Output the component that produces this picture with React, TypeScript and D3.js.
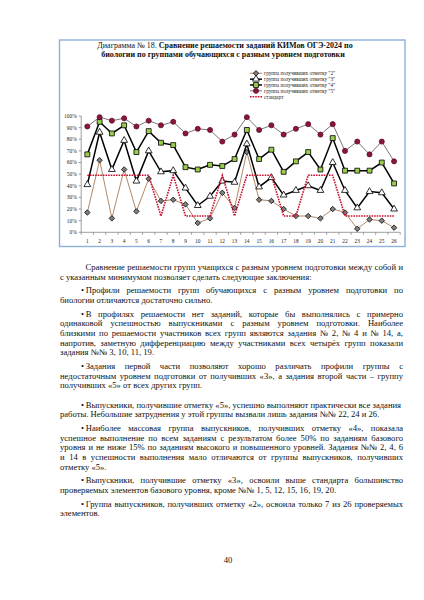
import React, { useRef, useEffect } from 'react';
import * as d3 from 'd3';

// task numbers on the x axis
const tasks = ['1', '2', '3', '4', '5', '6', '7', '8', '9', '10', '11', '12', '13',
  '14', '15', '16', '17', '18', '19', '20', '21', '22', '23', '24', '25', '26'];
const percentTicks = [0, 10, 20, 30, 40, 50, 60, 70, 80, 90, 100];

// solve rate (%) by group
const grade2 = [17, 62, 12, 54, 18, 46, 27, 28, 24, 8, 12, 34, 21, 69, 28, 27, 20, 14, 14, 12, 20, 17, 3, 11, 10, 4];
const grade3 = [41, 86, 54, 79, 44, 70, 52, 53, 38, 23, 31, 44, 43, 76, 39, 47, 32, 36, 40, 36, 60, 36, 21, 35, 34, 20];
const grade4 = [67, 95, 85, 92, 69, 87, 77, 75, 56, 54, 58, 57, 63, 88, 63, 71, 52, 61, 69, 54, 81, 53, 53, 53, 60, 42];
const grade5 = [91, 99, 96, 98, 91, 96, 92, 95, 85, 89, 88, 78, 84, 99, 88, 92, 84, 89, 93, 84, 93, 70, 78, 67, 78, 61];
const standard = [49, 49, 49, 49, 49, 49, 14, 49, 14, 14, 14, 49, 14, 49, 49, 49, 14, 14, 49, 49, 49, 14, 14, 14, 14, 14];

const legendLabels = [
  'группа получивших отметку "2"',
  'группа получивших отметку "3"',
  'группа получивших отметку "4"',
  'группа получивших отметку "5"',
  'стандарт',
];

const titleLead = 'Диаграмма № 18. ';
const titleBold1 = 'Сравнение решаемости заданий КИМов ОГЭ-2024 по';
const titleBold2 = 'биологии по группами обучающихся с разным уровнем подготовки';

const paragraphs = [
  ['Сравнение решаемости групп учащихся с разным уровнем подготовки между собой и',
    'с указанным минимумом позволяет сделать следующие заключения:'],
  ['•\u2009Профили решаемости групп обучающихся с разным уровнем подготовки по',
    'биологии отличаются достаточно сильно.'],
  ['•\u2009В профилях решаемости нет заданий, которые бы выполнялись с примерно',
    'одинаковой успешностью выпускниками с разным уровнем подготовки. Наиболее',
    'близкими по решаемости участников всех групп являются задания № 2, № 4 и № 14, а,',
    'напротив, заметную дифференциацию между участниками всех четырёх групп показали',
    'задания №№ 3, 10, 11, 19.'],
  ['•\u2009Задания первой части позволяют хорошо различать профили группы с',
    'недостаточным уровнем подготовки от получивших «3», а задания второй части – группу',
    'получивших «5» от всех других групп.'],
  ['•\u2009Выпускники, получившие отметку «5», успешно выполняют практически все задания',
    'работы. Небольшие затруднения у этой группы вызвали лишь задания №№ 22, 24 и 26.'],
  ['•\u2009Наиболее массовая группа выпускников, получивших отметку «4», показала',
    'успешное выполнение по всем заданиям с результатом более 50% по заданиям базового',
    'уровня и не ниже 15% по заданиям высокого и повышенного уровней. Задания №№ 2, 4, 6',
    'и 14 в успешности выполнения мало отличаются от группы выпускников, получивших',
    'отметку «5».'],
  ['•\u2009Выпускники, получившие отметку «3», освоили выше стандарта большинство',
    'проверяемых элементов базового уровня, кроме №№ 1, 5, 12, 15, 16, 19, 20.'],
  ['•\u2009Группа выпускников, получивших отметку «2», освоила только 7 из 26 проверяемых',
    'элементов.'],
];
const raggedParagraphs = [4];
const pageNumber = '40';

const serif = '"Liberation Serif", "Times New Roman", serif';

export default function App() {
  const ref = useRef<SVGSVGElement>(null);

  // plot geometry
  const box = { x: 59.5, y: 40, w: 345.5, h: 206.5 };
  const plot = { left: 81.2, right: 400.2, top: 116, bottom: 232.3 };

  const x = d3.scaleBand().domain(tasks).range([plot.left, plot.right]);
  const y = d3.scaleLinear().domain([0, 100]).range([plot.bottom, plot.top]);
  const cx = (i: number) => x(tasks[i])! + x.bandwidth() / 2;
  const line = d3.line<number>().x((_, i) => cx(i)).y((d) => y(d));

  const sym = (type: d3.SymbolType, size: number) => d3.symbol().type(type).size(size)()!;
  const diamond = sym(d3.symbolSquare, 15);
  const triangle = sym(d3.symbolTriangle, 20);
  const square = sym(d3.symbolSquare, 24);
  const circle = sym(d3.symbolCircle, 20);

  const series = [
    { data: grade2, stroke: '#a87a55', width: 0.9, path: diamond, rot: 45, fill: '#7f7f7f', ms: '#111' },
    { data: grade3, stroke: '#000', width: 1.5, path: triangle, rot: 0, fill: '#fff', ms: '#000' },
    { data: grade4, stroke: '#000', width: 1.5, path: square, rot: 0, fill: '#9acd4c', ms: '#000' },
    { data: grade5, stroke: '#6e6272', width: 0.9, path: circle, rot: 0, fill: '#8c1638', ms: '#5c0d24' },
  ];

  // text layout
  const lineStep = 9.65;
  const paraGaps = [0, 4.1, 4.1, 4.1, 9.6, 4.1, 4.1, 4.1];
  const textLeft = 60;
  const textRight = 403;
  const bodyLines: { text: string; x: number; y: number; justify: boolean }[] = [];
  let yy = 269.9;
  paragraphs.forEach((p, pi) => {
    yy += paraGaps[pi];
    p.forEach((t, li) => {
      const startX = li === 0 ? (pi === 0 ? 85.5 : 81) : textLeft;
      const last = li === p.length - 1;
      bodyLines.push({ text: t, x: startX, y: yy, justify: !last && !raggedParagraphs.includes(pi) });
      yy += lineStep;
    });
  });

  useEffect(() => {
    if (!ref.current) return;
    d3.select(ref.current)
      .selectAll<SVGTextElement, unknown>('text.justify')
      .each(function () {
        this.style.wordSpacing = '0px';
        const natural = this.getComputedTextLength();
        const target = textRight - +this.getAttribute('x')!;
        const gaps = (this.textContent!.match(/ /g) || []).length;
        if (gaps > 0) this.style.wordSpacing = `${(target - natural) / gaps}px`;
      });
  }, []);

  const legendY = (i: number) => 73.3 + i * 5.85;

  return (
    <svg ref={ref} width={424} height={600} style={{ position: 'absolute', left: 0, top: 0, background: '#fff' }}
      fontFamily={serif}>
      <rect x={box.x} y={box.y} width={box.w} height={box.h} fill="#fff" stroke="#8fb0d8" strokeWidth={1.4} />

      <text x={225} y={47.8} textAnchor="middle" fontSize={8} fill="#111">
        <tspan>{titleLead}</tspan>
        <tspan fontWeight="bold">{titleBold1}</tspan>
      </text>
      <text x={223} y={56.8} textAnchor="middle" fontSize={8} fontWeight="bold" fill="#111">{titleBold2}</text>

      {/* axes */}
      <line x1={plot.left} x2={plot.left} y1={plot.top} y2={plot.bottom} stroke="#868686" strokeWidth={0.8} />
      <line x1={plot.left} x2={plot.right} y1={plot.bottom} y2={plot.bottom} stroke="#868686" strokeWidth={0.8} />
      {percentTicks.map((t) => (
        <g key={t}>
          <line x1={plot.left - 2.5} x2={plot.left} y1={y(t)} y2={y(t)} stroke="#868686" strokeWidth={0.8} />
          <text x={plot.left - 4.5} y={y(t)} dy="0.35em" textAnchor="end" fontSize={5.4} fill="#222">{t}%</text>
        </g>
      ))}
      {tasks.map((t) => (
        <line key={'tk' + t} x1={x(t)!} x2={x(t)!} y1={plot.bottom} y2={plot.bottom + 2.5} stroke="#868686" strokeWidth={0.8} />
      ))}
      <line x1={plot.right} x2={plot.right} y1={plot.bottom} y2={plot.bottom + 2.5} stroke="#868686" strokeWidth={0.8} />
      {tasks.map((t, i) => (
        <text key={'xl' + t} x={cx(i)} y={241} dy="0.35em" textAnchor="middle" fontSize={5.4} fill="#222">{t}</text>
      ))}

      {/* series */}
      {series.map((s, si) => (
        <g key={si}>
          <path d={line(s.data)!} fill="none" stroke={s.stroke} strokeWidth={s.width} />
          {s.data.map((d, i) => (
            <path key={i} d={s.path} transform={`translate(${cx(i)},${y(d)}) rotate(${s.rot})`}
              fill={s.fill} stroke={s.ms} strokeWidth={0.8} />
          ))}
        </g>
      ))}
      <path d={line.curve(d3.curveLinear)(standard)!} fill="none" stroke="#c8102e" strokeWidth={1.6} strokeDasharray="1.6 1" />

      {/* legend */}
      {series.map((s, i) => (
        <g key={'lg' + i}>
          <line x1={250} x2={262} y1={legendY(i)} y2={legendY(i)} stroke={s.stroke} strokeWidth={s.width} />
          <path d={s.path} transform={`translate(256,${legendY(i)}) rotate(${s.rot})`} fill={s.fill} stroke={s.ms} strokeWidth={0.8} />
          <text x={264} y={legendY(i)} dy="0.35em" fontSize={5.2} fill="#222">{legendLabels[i]}</text>
        </g>
      ))}
      <line x1={250} x2={262} y1={legendY(4)} y2={legendY(4)} stroke="#c8102e" strokeWidth={1.6} strokeDasharray="1.6 1" />
      <text x={264} y={legendY(4)} dy="0.35em" fontSize={5.2} fill="#222">{legendLabels[4]}</text>

      {/* body text */}
      {bodyLines.map((l, i) => (
        <text key={'b' + i} className={l.justify ? 'justify' : undefined} x={l.x} y={l.y} fontSize={8.6} fill="#111">
          {l.text}
        </text>
      ))}
      <text x={228} y={562.5} textAnchor="middle" fontSize={8.6} fill="#111">{pageNumber}</text>
    </svg>
  );
}
